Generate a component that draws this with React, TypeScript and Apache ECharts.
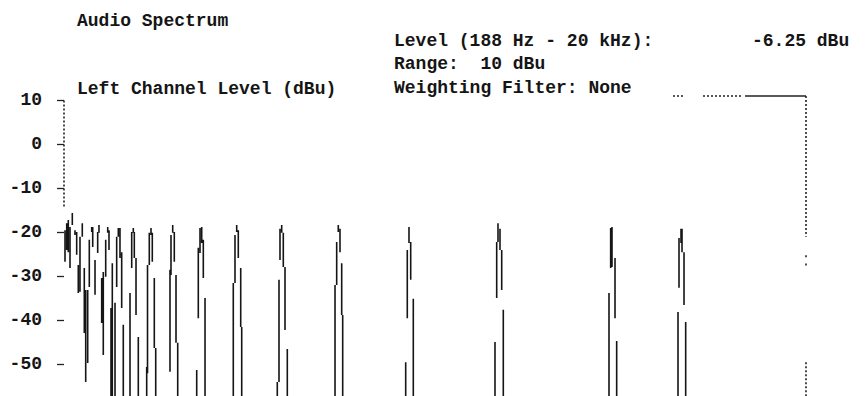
import React, { useEffect, useRef } from "react";
import * as echarts from "echarts";

// ---- texts ----
const titleText = "Audio Spectrum";
const axisTitleText = "Left Channel Level (dBu)";
const levelLabel = "Level (188 Hz - 20 kHz):";
const levelValue = "-6.25 dBu";
const rangeText = "Range:  10 dBu";
const filterText = "Weighting Filter: None";

// ---- axes ----
const yTickValues = [10, 0, -10, -20, -30, -40, -50];
const yMin = -57.2;
const yMax = 11;
const xMinHz = 0;
const xMaxHz = 20000;
const floorDb = -60; // below visible range

// ---- spectrum strokes: [frequency Hz, start dBu, end dBu] ----
const lowCluster: [number, number, number][] = [
  [27, -19.5, -26.7], [73, -17.9, -24.0], [116, -17.2, -24.5], [162, -18.8, -28.1],
  [224, -15.6, -18.3], [296, -19.5, -20.6], [342, -19.9, -25.1], [385, -27.4, -33.8],
  [431, -21.0, -33.5], [493, -17.9, -21.0], [547, -28.1, -42.9], [585, -33.1, -54.0],
  [639, -33.1, -49.7], [682, -21.7, -32.4], [747, -18.8, -19.9], [774, -18.8, -23.3],
  [836, -26.3, -34.2], [908, -19.9, -24.7], [943, -18.3, -20.1], [1016, -30.4, -40.6],
  [1059, -29.0, -47.9], [1124, -21.7, -30.1], [1178, -18.8, -20.1], [1213, -19.5, -24.0],
  [1267, -37.2, floorDb], [1302, -27.0, floorDb], [1375, -36.0, floorDb], [1420, -21.0, -32.4],
  [1464, -19.0, -21.0], [1509, -19.0, -25.8], [1555, -24.5, -37.2], [1598, -41.0, floorDb],
];
const tone1870: [number, number, number][] = [
  [1779, -33.8, floorDb], [1825, -28.1, -19.9], [1868, -19.0, -20.1], [1895, -19.9, -25.8],
  [1941, -25.8, -38.8], [2003, -43.8, floorDb],
];
const tone2340: [number, number, number][] = [
  [2229, -50.6, floorDb], [2251, -27.4, -52.0], [2299, -27.4, -20.1], [2345, -19.0, -20.6],
  [2380, -20.1, -26.7], [2434, -30.4, -46.3], [2472, -46.3, floorDb],
];
const tone2930: [number, number, number][] = [
  [2857, -28.5, -51.7], [2884, -20.6, -29.7], [2930, -18.3, -20.1], [2973, -19.9, -26.7],
  [3019, -29.7, -45.1], [3065, -45.1, floorDb],
];
const tone3690: [number, number, number][] = [
  [3577, -51.3, floorDb], [3620, -23.5, -39.5], [3666, -19.0, -24.7], [3712, -18.8, -22.4],
  [3755, -21.7, -30.4], [3801, -34.9, floorDb],
];
const tone4660: [number, number, number][] = [
  [4563, -31.5, floorDb], [4609, -20.6, -31.5], [4655, -18.3, -19.9], [4698, -19.5, -25.8],
  [4763, -28.1, -41.5], [4790, -41.5, floorDb],
];
const tone5870: [number, number, number][] = [
  [5749, -54.0, floorDb], [5795, -30.8, -54.0], [5822, -19.2, -26.3], [5868, -18.3, -20.1],
  [5911, -20.1, -27.9], [5957, -27.9, -42.2], [6019, -46.5, floorDb],
];
const tone7390: [number, number, number][] = [
  [7305, -31.95, floorDb], [7350, -22.2, -31.95], [7393, -18.3, -19.9], [7439, -19.2, -24.5],
  [7485, -27.0, -38.8], [7512, -38.8, floorDb],
];
const tone9300: [number, number, number][] = [
  [9210, -49.5, floorDb], [9253, -24.0, -39.5], [9299, -18.8, -22.4], [9345, -22.2, -30.8],
  [9415, -35.1, floorDb],
];
const tone11700: [number, number, number][] = [
  [11617, -44.9, floorDb], [11663, -22.2, -34.9], [11698, -17.9, -22.2], [11752, -19.2, -24.0],
  [11798, -24.0, -33.1], [11841, -37.6, floorDb],
];
const tone14770: [number, number, number][] = [
  [14690, -33.8, floorDb], [14735, -28.1, -19.0], [14771, -18.8, -27.9], [14852, -25.8, -39.5],
  [14897, -44.7, floorDb],
];
const tone16630: [number, number, number][] = [
  [16550, -38.1, floorDb], [16577, -21.3, -32.6], [16631, -19.2, -22.4], [16658, -19.2, -24.5],
  [16712, -24.5, -36.5], [16757, -40.4, floorDb],
];

const FONT = '"Liberation Mono", "Courier New", monospace';
const INK = "#151515";

export default function App() {
  const ref = useRef<HTMLDivElement>(null);

  useEffect(() => {
    document.body.style.margin = "0";
    if (!ref.current) return;
    const chart = echarts.init(ref.current, null, { renderer: "svg" });

    const all = [
      ...lowCluster, ...tone1870, ...tone2340, ...tone2930, ...tone3690, ...tone4660,
      ...tone5870, ...tone7390, ...tone9300, ...tone11700, ...tone14770, ...tone16630,
    ];
    const lineData: (number | null)[][] = [];
    all.forEach(([f, a, b]) => {
      lineData.push([f, a], [f, b], [f, null]);
    });

    const dotted = { type: [2, 2], color: "#222", width: 1.6 };
    const solid = { type: "solid" as const, color: "#222", width: 1.6 };
    const seg = (p1: number[], p2: number[], style: any) => [
      { coord: p1, lineStyle: style },
      { coord: p2 },
    ];

    const text = (t: string, x: number, y: number) => ({
      type: "text",
      x,
      y,
      silent: true,
      style: {
        text: t,
        fill: INK,
        font: `bold 18px ${FONT}`,
        textAlign: "left",
        textVerticalAlign: "middle",
      },
    });

    chart.setOption({
      animation: false,
      backgroundColor: "#ffffff",
      grid: { left: 64, right: 59, top: 96, bottom: 0, containLabel: false },
      xAxis: {
        type: "value",
        min: xMinHz,
        max: xMaxHz,
        show: false,
      },
      yAxis: {
        type: "value",
        min: yMin,
        max: yMax,
        axisLine: { show: false },
        splitLine: { show: false },
        axisTick: {
          show: true,
          customValues: yTickValues,
          length: 7,
          lineStyle: { color: "#222", width: 1.3 },
        },
        axisLabel: {
          customValues: yTickValues,
          margin: 22,
          color: INK,
          fontFamily: FONT,
          fontSize: 18,
          fontWeight: "bold",
        },
      },
      graphic: [
        text(titleText, 77, 21),
        text(levelLabel, 394, 41),
        text(levelValue, 752, 41),
        text(rangeText, 394, 64),
        text(filterText, 394, 88),
        text(axisTitleText, 77, 89),
      ],
      series: [
        {
          type: "line",
          data: lineData,
          showSymbol: false,
          symbol: "none",
          connectNulls: false,
          clip: true,
          lineStyle: { color: INK, width: 1.6 },
          markLine: {
            silent: true,
            symbol: "none",
            label: { show: false },
            animation: false,
            data: [
              seg([xMinHz, 10], [xMinHz, -14.3], dotted),
              seg([xMaxHz, yMax], [xMaxHz, -21.0], dotted),
              seg([xMaxHz, -25.2], [xMaxHz, -25.7], dotted),
              seg([xMaxHz, -27.1], [xMaxHz, -27.6], dotted),
              seg([xMaxHz, -49.5], [xMaxHz, yMin], dotted),
              seg([18356, yMax], [xMaxHz, yMax], solid),
              seg([17224, yMax], [18302, yMax], dotted),
              seg([16415, yMax], [16684, yMax], dotted),
            ],
          },
        },
      ],
    });

    return () => chart.dispose();
  }, []);

  return <div ref={ref} style={{ width: 865, height: 396 }} />;
}
